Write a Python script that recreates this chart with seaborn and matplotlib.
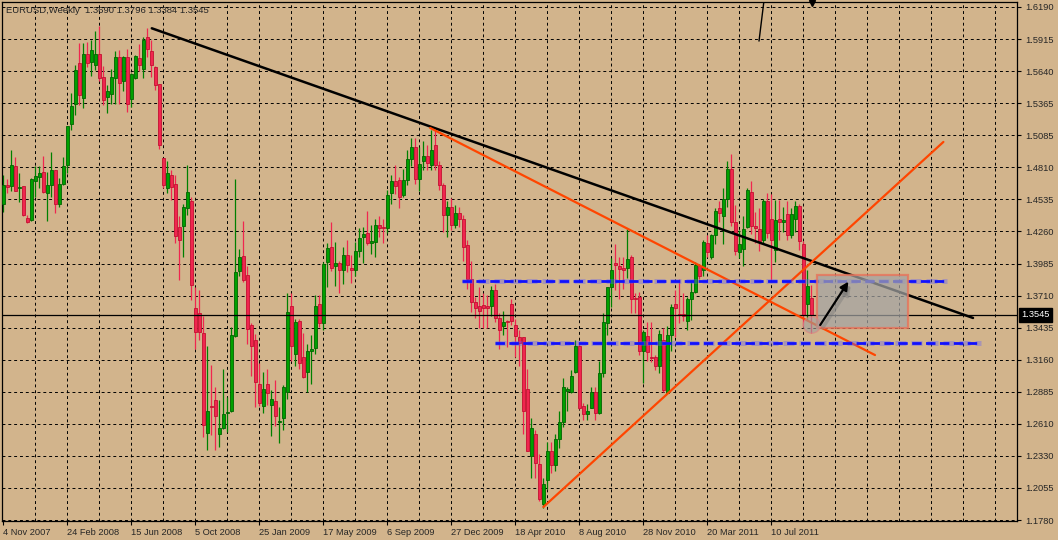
import pandas as pd
import seaborn as sns
import matplotlib.pyplot as plt
from matplotlib.patches import Rectangle, Ellipse
import matplotlib.transforms as mtransforms

# EURUSD weekly candles, first bar = week of 4 Nov 2007
opens = [
    1.450, 1.466, 1.465, 1.482, 1.463, 1.465, 1.438, 1.436, 1.469, 1.473,
    1.477, 1.459, 1.466, 1.479, 1.450, 1.467, 1.483, 1.518, 1.536, 1.571,
    1.541, 1.579, 1.572, 1.569, 1.579, 1.559, 1.542, 1.544, 1.558, 1.576,
    1.555, 1.576, 1.540, 1.558, 1.575, 1.566, 1.593, 1.581, 1.567, 1.553,
    1.489, 1.463, 1.475, 1.467, 1.430, 1.431, 1.446, 1.452, 1.360, 1.356,
    1.339, 1.253, 1.276, 1.281, 1.252, 1.257, 1.270, 1.272, 1.336, 1.392,
    1.405, 1.389, 1.346, 1.333, 1.295, 1.276, 1.295, 1.277, 1.280, 1.262,
    1.266, 1.288, 1.362, 1.321, 1.349, 1.318, 1.305, 1.323, 1.326, 1.364,
    1.347, 1.400, 1.413, 1.396, 1.399, 1.393, 1.406, 1.395, 1.393, 1.409,
    1.421, 1.425, 1.416, 1.417, 1.432, 1.430, 1.429, 1.459, 1.469, 1.470,
    1.457, 1.470, 1.488, 1.499, 1.471, 1.487, 1.491, 1.483, 1.500, 1.483,
    1.466, 1.440, 1.447, 1.432, 1.442, 1.437, 1.414, 1.385, 1.365, 1.362,
    1.363, 1.362, 1.362, 1.376, 1.352, 1.345, 1.349, 1.364, 1.346, 1.335,
    1.335, 1.291, 1.233, 1.252, 1.226, 1.192, 1.212, 1.237, 1.225, 1.248,
    1.262, 1.289, 1.288, 1.305, 1.328, 1.276, 1.269, 1.274, 1.288, 1.270,
    1.304, 1.347, 1.378, 1.399, 1.396, 1.395, 1.395, 1.404, 1.369, 1.370,
    1.323, 1.336, 1.318, 1.318, 1.310, 1.333, 1.287, 1.337, 1.364, 1.355,
    1.355, 1.349, 1.368, 1.374, 1.396, 1.393, 1.416, 1.404, 1.423, 1.446,
    1.439, 1.454, 1.480, 1.434, 1.408, 1.411, 1.430, 1.460, 1.431, 1.428,
    1.419, 1.452, 1.437, 1.410, 1.437, 1.434, 1.441, 1.423, 1.437, 1.448,
    1.415, 1.364, 1.3690,
]
highs = [
    1.4745, 1.471, 1.496, 1.490, 1.476, 1.465, 1.440, 1.472, 1.482, 1.482,
    1.491, 1.477, 1.494, 1.479, 1.472, 1.490, 1.517, 1.545, 1.569, 1.588,
    1.588, 1.589, 1.591, 1.598, 1.603, 1.568, 1.552, 1.566, 1.581, 1.582,
    1.577, 1.583, 1.562, 1.578, 1.587, 1.593, 1.601, 1.591, 1.568, 1.553,
    1.489, 1.487, 1.479, 1.475, 1.439, 1.450, 1.483, 1.456, 1.378, 1.376,
    1.353, 1.328, 1.311, 1.292, 1.281, 1.308, 1.284, 1.344, 1.471, 1.411,
    1.435, 1.396, 1.347, 1.338, 1.313, 1.305, 1.308, 1.290, 1.298, 1.275,
    1.294, 1.373, 1.373, 1.351, 1.351, 1.339, 1.329, 1.337, 1.371, 1.371,
    1.400, 1.416, 1.434, 1.417, 1.401, 1.413, 1.419, 1.406, 1.417, 1.429,
    1.430, 1.444, 1.432, 1.437, 1.439, 1.437, 1.462, 1.475, 1.483, 1.473,
    1.480, 1.496, 1.506, 1.506, 1.499, 1.504, 1.500, 1.513, 1.513, 1.487,
    1.468, 1.452, 1.455, 1.449, 1.447, 1.440, 1.419, 1.401, 1.370, 1.378,
    1.373, 1.371, 1.379, 1.381, 1.356, 1.358, 1.350, 1.368, 1.351, 1.341,
    1.335, 1.308, 1.266, 1.255, 1.235, 1.214, 1.245, 1.245, 1.252, 1.272,
    1.300, 1.292, 1.307, 1.333, 1.331, 1.279, 1.278, 1.292, 1.292, 1.315,
    1.356, 1.378, 1.403, 1.415, 1.404, 1.404, 1.428, 1.406, 1.373, 1.374,
    1.341, 1.348, 1.348, 1.320, 1.341, 1.343, 1.345, 1.364, 1.376, 1.385,
    1.373, 1.370, 1.384, 1.400, 1.398, 1.419, 1.423, 1.424, 1.446, 1.452,
    1.463, 1.487, 1.493, 1.449, 1.427, 1.439, 1.463, 1.469, 1.443, 1.446,
    1.454, 1.459, 1.458, 1.453, 1.453, 1.447, 1.452, 1.446, 1.452, 1.450,
    1.418, 1.393, 1.3796,
]
lows = [
    1.443, 1.459, 1.461, 1.461, 1.451, 1.439, 1.433, 1.435, 1.456, 1.463,
    1.459, 1.435, 1.456, 1.442, 1.447, 1.466, 1.476, 1.513, 1.526, 1.535,
    1.532, 1.567, 1.560, 1.565, 1.555, 1.535, 1.528, 1.536, 1.536, 1.536,
    1.547, 1.529, 1.533, 1.557, 1.564, 1.558, 1.576, 1.559, 1.548, 1.497,
    1.463, 1.459, 1.453, 1.416, 1.384, 1.404, 1.440, 1.367, 1.325, 1.333,
    1.249, 1.238, 1.251, 1.238, 1.241, 1.256, 1.254, 1.271, 1.335, 1.388,
    1.383, 1.329, 1.302, 1.275, 1.276, 1.270, 1.277, 1.250, 1.259, 1.244,
    1.255, 1.282, 1.315, 1.310, 1.308, 1.300, 1.288, 1.295, 1.321, 1.344,
    1.341, 1.378, 1.392, 1.379, 1.373, 1.381, 1.391, 1.382, 1.388, 1.404,
    1.399, 1.414, 1.407, 1.404, 1.421, 1.416, 1.425, 1.450, 1.458, 1.446,
    1.456, 1.466, 1.482, 1.467, 1.461, 1.479, 1.479, 1.479, 1.479, 1.462,
    1.426, 1.421, 1.427, 1.429, 1.430, 1.401, 1.377, 1.357, 1.352, 1.343,
    1.343, 1.343, 1.353, 1.348, 1.325, 1.337, 1.327, 1.346, 1.318, 1.310,
    1.252, 1.237, 1.214, 1.214, 1.194, 1.188, 1.205, 1.218, 1.220, 1.240,
    1.258, 1.272, 1.287, 1.304, 1.273, 1.264, 1.264, 1.274, 1.264, 1.269,
    1.301, 1.337, 1.361, 1.376, 1.368, 1.377, 1.386, 1.356, 1.356, 1.320,
    1.296, 1.315, 1.314, 1.307, 1.304, 1.288, 1.287, 1.323, 1.335, 1.347,
    1.349, 1.341, 1.350, 1.373, 1.385, 1.388, 1.404, 1.402, 1.415, 1.434,
    1.415, 1.447, 1.431, 1.406, 1.403, 1.396, 1.429, 1.424, 1.416, 1.409,
    1.416, 1.420, 1.384, 1.400, 1.419, 1.426, 1.419, 1.420, 1.426, 1.410,
    1.345, 1.350, 1.3384,
]
closes = [
    1.466, 1.464, 1.483, 1.461, 1.464, 1.440, 1.434, 1.471, 1.474, 1.476,
    1.460, 1.466, 1.479, 1.450, 1.467, 1.482, 1.517, 1.534, 1.565, 1.543,
    1.579, 1.571, 1.582, 1.579, 1.558, 1.539, 1.547, 1.559, 1.576, 1.554,
    1.576, 1.536, 1.561, 1.577, 1.569, 1.591, 1.583, 1.569, 1.552, 1.500,
    1.466, 1.476, 1.464, 1.422, 1.419, 1.447, 1.460, 1.380, 1.340, 1.340,
    1.260, 1.272, 1.275, 1.267, 1.257, 1.269, 1.271, 1.337, 1.391, 1.404,
    1.384, 1.342, 1.328, 1.297, 1.279, 1.291, 1.287, 1.282, 1.267, 1.263,
    1.292, 1.357, 1.328, 1.348, 1.313, 1.301, 1.323, 1.325, 1.362, 1.347,
    1.398, 1.412, 1.395, 1.399, 1.393, 1.406, 1.397, 1.393, 1.409, 1.420,
    1.424, 1.416, 1.418, 1.432, 1.429, 1.429, 1.457, 1.469, 1.465, 1.456,
    1.470, 1.488, 1.499, 1.471, 1.484, 1.491, 1.485, 1.496, 1.483, 1.466,
    1.440, 1.447, 1.432, 1.442, 1.437, 1.413, 1.385, 1.365, 1.360, 1.358,
    1.360, 1.360, 1.376, 1.352, 1.341, 1.348, 1.348, 1.349, 1.336, 1.330,
    1.272, 1.237, 1.257, 1.227, 1.196, 1.209, 1.237, 1.225, 1.248, 1.262,
    1.292, 1.291, 1.302, 1.328, 1.274, 1.269, 1.272, 1.288, 1.270, 1.304,
    1.348, 1.378, 1.393, 1.397, 1.394, 1.393, 1.402, 1.368, 1.368, 1.323,
    1.340, 1.322, 1.317, 1.310, 1.338, 1.290, 1.337, 1.361, 1.360, 1.354,
    1.353, 1.368, 1.374, 1.397, 1.388, 1.417, 1.408, 1.423, 1.444, 1.442,
    1.454, 1.480, 1.434, 1.409, 1.415, 1.428, 1.462, 1.431, 1.429, 1.418,
    1.452, 1.425, 1.419, 1.436, 1.434, 1.436, 1.423, 1.441, 1.448, 1.418,
    1.354, 1.379, 1.3545,
]

date_labels = ['4 Nov 2007', '24 Feb 2008', '15 Jun 2008', '5 Oct 2008', '25 Jan 2009',
               '17 May 2009', '6 Sep 2009', '27 Dec 2009', '18 Apr 2010', '8 Aug 2010',
               '28 Nov 2010', '20 Mar 2011', '10 Jul 2011']
price_labels = ['1.1780', '1.2055', '1.2330', '1.2610', '1.2885', '1.3160', '1.3435',
                '1.3710', '1.3985', '1.4260', '1.4535', '1.4810', '1.5085', '1.5365',
                '1.5640', '1.5915', '1.6190']
price_low, price_high = 1.1780, 1.6190
last_price = 1.3545
header = 'EURUSD,Weekly  1.3690 1.3796 1.3384 1.3545'

# objects drawn on the chart: (bar index list, price list)
black_trend = ([37.1, 242.4], [1.6007, 1.3517])
orange_down = ([106.7, 217.9], [1.5150, 1.3198])
orange_up = ([135.0, 235.0], [1.1892, 1.5030])
blue_upper = ([114.7, 235.9], [1.3835, 1.3835])
blue_lower = ([123.0, 244.4], [1.3302, 1.3302])
top_stroke = ([188.9, 190.2], [1.5897, 1.6260])
target_box = ([203.5, 226.25], [1.3433, 1.3886])
low_mark = (202.1, 1.3456)
arrow_path = ([204.2, 211.25], [1.3456, 1.3829])

TAN = '#d2b48c'
BULL, BULL_EDGE = '#00a000', '#006400'
BEAR, BEAR_EDGE = '#f0264f', '#c41030'

sns.set_theme(style='ticks', rc={'axes.facecolor': TAN, 'figure.facecolor': TAN,
                                 'axes.edgecolor': 'black', 'axes.linewidth': 0.9})
plt.rcParams['font.family'] = ['Liberation Sans', 'DejaVu Sans']

df = pd.DataFrame({'open': opens, 'high': highs, 'low': lows, 'close': closes})
df['bar'] = range(len(df))
df['up'] = df['close'] >= df['open']
df['body_lo'] = df[['open', 'close']].min(axis=1)
df['body_h'] = (df['close'] - df['open']).abs().clip(lower=0.0008)

fig = plt.figure(figsize=(10.58, 5.40), dpi=100)
ax = fig.add_axes([2 / 1058, 19 / 540, 1015 / 1058, 519 / 540])

px = (price_high - price_low) / 513
ax.set_ylim(price_low - 1 * px, price_high + 5 * px)
ax.set_xlim(-0.35, 253.4)

# dashed grid
step = (price_high - price_low) / 16
price_ticks = [price_low + k * step for k in range(17)]
grid_kw = dict(color='black', lw=0.7, linestyle=(0, (3.0, 3.0)), zorder=0.5)
for p in price_ticks:
    ax.axhline(p, **grid_kw)
for b in range(8, 254, 8):
    ax.axvline(b, **grid_kw)

# candles: wicks then bodies
for up, fill, edge in [(True, BULL, BULL_EDGE), (False, BEAR, BEAR_EDGE)]:
    part = df[df['up'] == up]
    ax.vlines(part['bar'], part['low'], part['high'], color='#008000' if up else BEAR, lw=0.9, zorder=2)
    ax.bar(part['bar'], part['body_h'], bottom=part['body_lo'], width=0.72,
           color=fill, edgecolor=edge, linewidth=0.6, zorder=3)

# current price line
ax.axhline(last_price, color='black', lw=0.9, zorder=4)

# trend lines
sns.lineplot(x=black_trend[0], y=black_trend[1], ax=ax, color='black', lw=1.8, zorder=5)
sns.lineplot(x=orange_down[0], y=orange_down[1], ax=ax, color='#ff4500', lw=1.6, zorder=5)
sns.lineplot(x=orange_up[0], y=orange_up[1], ax=ax, color='#ff4500', lw=1.6, zorder=5)
sns.lineplot(x=top_stroke[0], y=top_stroke[1], ax=ax, color='black', lw=1.0, zorder=5)
for xs, ys in [blue_upper, blue_lower]:
    ax.plot(xs, ys, color='#5a5aff', lw=3.6, alpha=0.35, linestyle=(0, (2.2, 1.0)), zorder=5)
    ax.plot(xs, ys, color='#1010ff', lw=2.0, linestyle=(0, (3.4, 1.6)), zorder=5)

# projected box, low circle and arrow
box_w = target_box[0][1] - target_box[0][0]
box_h = target_box[1][1] - target_box[1][0]
ax.add_patch(Rectangle((target_box[0][0], target_box[1][0]), box_w, box_h,
                       facecolor='#a4a4a4', alpha=0.72, edgecolor='none', zorder=6))
ax.add_patch(Rectangle((target_box[0][0], target_box[1][0]), box_w, box_h,
                       facecolor='none', edgecolor='#e8735a', lw=1.6, alpha=0.8, zorder=6))
ax.add_patch(Ellipse(low_mark, 4.3, 0.014, facecolor='#a0a0a0', alpha=0.6,
                     edgecolor='#e08080', lw=1.0, zorder=6))
ax.annotate('', xy=(arrow_path[0][1] + 0.6, arrow_path[1][1] - 0.0025),
            xytext=(arrow_path[0][0] + 0.6, arrow_path[1][0] - 0.0025),
            arrowprops=dict(arrowstyle='-|>', color='#707070', lw=2.6, alpha=0.35,
                            mutation_scale=14, shrinkA=0, shrinkB=0), zorder=6)
ax.annotate('', xy=(arrow_path[0][1], arrow_path[1][1]),
            xytext=(arrow_path[0][0], arrow_path[1][0]),
            arrowprops=dict(arrowstyle='-|>', color='black', lw=1.6,
                            mutation_scale=12, shrinkA=0, shrinkB=0), zorder=7)

# chart shift marker at the top
ax.plot([len(df) - 0.8], [price_high + 4 * px], marker='v', color='black', ms=5,
        clip_on=False, zorder=8)

# axes and labels
ax.yaxis.tick_right()
ax.set_yticks(price_ticks)
ax.set_yticklabels(price_labels)
ax.set_xticks(list(range(0, 16 * len(date_labels), 16)))
ax.set_xticklabels(date_labels, ha='left')
ax.tick_params(axis='both', length=3, width=0.8, color='black', labelsize=6.7, pad=2)
ax.tick_params(axis='y', pad=3)
for s in ax.spines.values():
    s.set_visible(True)
    s.set_color('black')
ax.set_xlabel('')
ax.set_ylabel('')

ax.text(0.004, 0.983, header, transform=ax.transAxes, fontsize=6.8, va='center', ha='left')

trans = mtransforms.blended_transform_factory(ax.transAxes, ax.transData)
ax.text(1.0045, last_price, '1.3545', transform=trans, fontsize=6.7, color='white',
        va='center', ha='left',
        bbox=dict(boxstyle='square,pad=0.25', facecolor='black', edgecolor='black'), zorder=10)

plt.savefig('out.png', dpi=100, facecolor=TAN)
